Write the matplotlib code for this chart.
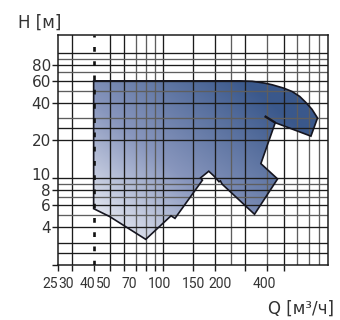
import numpy as np
import matplotlib
matplotlib.use("Agg")
from matplotlib import pyplot as plt
from matplotlib.patches import Polygon
from matplotlib.colors import LinearSegmentedColormap
from matplotlib.transforms import ScaledTranslation, blended_transform_factory

# operating field of the pump range (Q in m3/h, H in m)
q_field = [40, 280, 330, 390, 430, 500, 560, 620, 670, 730, 786, 720, 448, 370, 462,
           340, 221, 216, 212, 198, 185, 166, 170, 118, 112, 80, 49.5, 40]
h_field = [60, 60, 59.5, 57.5, 55.8, 52.5, 49.3, 45, 40.5, 35.5, 30.2, 21.6, 27.7, 13.0, 9.8,
           5.1, 8.9, 9.45, 9.3, 10.35, 11.3, 10.0, 9.57, 4.73, 4.96, 3.21, 4.89, 5.66]
q_inner = [389, 448]
h_inner = [31.3, 27.7]
q_min = 40

q_grid_dark = [30, 50, 60, 100, 150, 200, 300, 500]
q_grid_light = [70, 80, 90, 250, 400, 600, 700, 800]
h_grid_dark = [2.5, 3, 4, 6, 8, 10, 20, 25, 40, 60, 80, 100]
h_grid_light = [5, 7, 9, 30, 50, 70, 90]

q_ticks = [25, 30, 40, 50, 60, 70, 80, 90, 100, 150, 200, 300, 400, 500]
q_labels = [25, 30, 40, 50, 70, 100, 150, 200, 400]
h_ticks = [2, 4, 6, 8, 10, 20, 40, 60, 80]
h_labels = [4, 6, 8, 10, 20, 40, 60, 80]

# hand placed shift of the labels (pixels)
q_label_shift = {25: -8, 30: -6, 40: -6, 50: -7, 70: -6, 100: -3.5, 150: 0, 200: 5, 400: -2}
h_label_shift = {10: 4}

dark = "#1c1c1c"
light = "#5e5e5e"
text_color = "#333333"

fig = plt.figure(figsize=(3.4, 3.2), dpi=100)
ax = fig.add_axes([0.1715, 0.172, 0.7923, 0.7187])
ax.set_xscale("log")
ax.set_yscale("log")
ax.set_autoscale_on(False)
ax.set_xlim(25, 900)
ax.set_ylim(2, 140)

# gradient fill clipped to the field
poly = Polygon(np.column_stack([q_field, h_field]), closed=True, facecolor="none",
               edgecolor="#15151f", linewidth=1.2, zorder=3)
ax.add_patch(poly)
u, v = np.meshgrid(np.linspace(0, 1, 300), np.linspace(0, 1, 300))
t = np.clip((u + v - 0.3) / 1.2, 0, 1)
cmap = LinearSegmentedColormap.from_list("field", [(0, "#eef0f6"), (0.45, "#8896bd"), (1, "#3a588b")])
im = ax.imshow(t, cmap=cmap, vmin=0, vmax=1, extent=(0, 1, 0, 1), origin="lower",
               transform=ax.transAxes, aspect="auto", zorder=1, interpolation="bilinear")
im.set_clip_path(poly)
ax.set_xlim(25, 900)
ax.set_ylim(2, 140)

# grid
for q in q_grid_dark:
    ax.axvline(q, color=dark, lw=0.95, zorder=2)
for q in q_grid_light:
    ax.axvline(q, color=light, lw=0.95, zorder=2)
for h in h_grid_dark:
    ax.axhline(h, color=dark, lw=0.95, zorder=2)
for h in h_grid_light:
    ax.axhline(h, color=light, lw=0.95, zorder=2)

ax.plot(q_inner, h_inner, color="#15151f", lw=1.7, zorder=3, solid_capstyle="butt")
ax.axvline(q_min, color="#111111", lw=1.9, ls=(0, (1.8, 3.6)), zorder=4)

for s in ax.spines.values():
    s.set_color(dark)
    s.set_linewidth(1.1)

ax.set_xticks(q_ticks)
ax.set_xticklabels([])
ax.xaxis.set_minor_locator(matplotlib.ticker.NullLocator())
ax.set_yticks(h_ticks)
ax.set_yticklabels([])
ax.yaxis.set_minor_locator(matplotlib.ticker.NullLocator())
ax.tick_params(axis="both", direction="out", length=4.3, width=1.0, color=dark)

xtrans = blended_transform_factory(ax.transData, ax.transAxes)
for q in q_labels:
    off = ScaledTranslation(q_label_shift[q] / 100, -12 / 100, fig.dpi_scale_trans)
    ax.text(q, 0, str(q), transform=xtrans + off, ha="center", va="top",
            fontsize=10, color=text_color, family=["Roboto", "DejaVu Sans"])

ytrans = blended_transform_factory(ax.transAxes, ax.transData)
for h in h_labels:
    off = ScaledTranslation(-7.5 / 100, h_label_shift.get(h, 0) / 100, fig.dpi_scale_trans)
    ax.text(0, h, str(h), transform=ytrans + off, ha="right", va="center_baseline",
            fontsize=11, color=text_color)

fig.text(18 / 340, 1 - 14 / 320, "H [м]", ha="left", va="top", fontsize=12, color=text_color)
fig.text(334 / 340, 1 - 300 / 320, "Q [м³/ч]", ha="right", va="top", fontsize=12, color=text_color)

fig.savefig("out.png", dpi=100)
